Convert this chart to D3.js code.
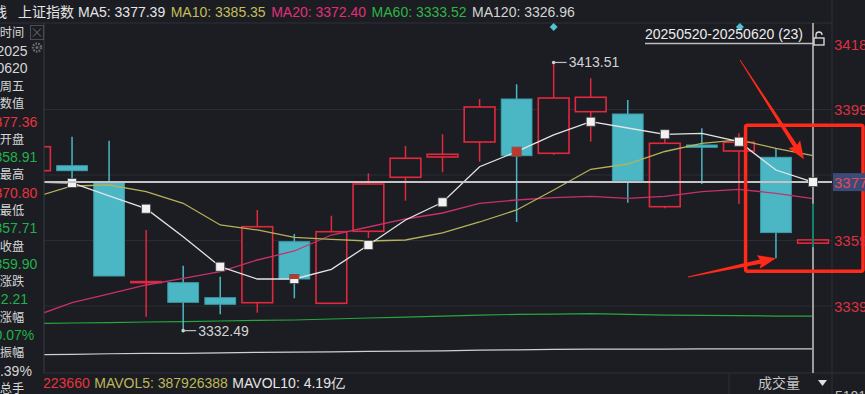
<!DOCTYPE html>
<html lang="zh">
<head>
<meta charset="UTF-8">
<title>上证指数 日K</title>
<script src="https://d3js.org/d3.v7.min.js"></script>
<style>
  html, body { margin: 0; padding: 0; background: #1b1d22; overflow: hidden; }
  svg text { font-family: "Liberation Sans", Arial, sans-serif; }
  svg text.cjk { font-family: "Noto Sans CJK SC", "Liberation Sans", sans-serif; }
</style>
</head>
<body>
<svg id="chart" width="865" height="394"></svg>
<script>
// ---- data ----
const dates = ["20250521","20250522","20250523","20250526","20250527","20250528","20250529","20250530",
               "20250603","20250604","20250605","20250606","20250609","20250610","20250611","20250612",
               "20250613","20250616","20250617","20250618","20250619","20250620"];
const open  = [3380.81,3382.32,3377.49,3347.00,3346.97,3342.44,3340.93,3359.36,3340.75,3362.50,3378.82,
               3384.95,3389.48,3402.47,3386.07,3398.64,3397.94,3369.93,3388.57,3386.76,3384.86,3358.91];
const high  = [3390.10,3391.08,3389.87,3362.90,3352.11,3348.79,3368.94,3361.69,3367.22,3380.03,3388.27,
               3391.81,3402.47,3406.91,3413.51,3408.73,3402.17,3391.81,3393.62,3392.11,3387.58,3370.80];
const low   = [3379.50,3377.09,3349.00,3336.70,3332.49,3337.43,3337.91,3342.26,3340.50,3360.50,3371.75,
               3380.33,3383.53,3365.30,3385.60,3389.57,3371.14,3369.45,3376.79,3370.75,3354.35,3357.71];
const close = [3388.06,3380.81,3349.00,3347.30,3341.05,3340.45,3363.89,3348.09,3362.38,3376.79,3384.56,
               3385.77,3400.06,3385.34,3402.77,3402.99,3377.70,3389.09,3387.88,3389.39,3362.11,3359.90];

const ma5   = [3377.40,3377.09,3373.17,3369.33,3360.87,3351.81,3348.09,3348.09,3351.02,3358.36,3365.92,
               3371.26,3382.02,3386.55,3391.60,3395.61,3393.71,3391.81,3392.11,3389.57,3381.02,3377.39];
const ma10  = [3372.87,3376.19,3376.49,3374.47,3370.96,3364.41,3362.90,3360.69,3360.09,3359.57,3359.87,
               3361.99,3365.31,3368.94,3374.98,3381.23,3382.83,3386.61,3389.09,3390.09,3387.58,3385.35];
const ma20  = [3336.91,3340.93,3343.56,3346.28,3348.30,3350.30,3353.83,3356.55,3361.38,3363.80,3366.22,
               3368.03,3370.96,3371.96,3372.65,3373.08,3372.47,3373.02,3374.47,3375.19,3373.98,3372.40];
const ma60  = [3334.65,3334.80,3334.90,3335.10,3335.20,3335.40,3335.60,3335.70,3336.00,3336.30,3336.60,
               3336.90,3337.20,3337.40,3337.50,3337.60,3337.40,3337.20,3337.10,3337.00,3336.90,3336.90];
const ma120 = [3325.20,3325.30,3325.50,3325.60,3325.60,3325.80,3325.90,3326.00,3326.10,3326.20,3326.30,
               3326.40,3326.60,3326.70,3326.80,3326.90,3326.90,3326.90,3326.95,3326.95,3326.96,3326.96];

const priceTicks = [3418.83, 3399.30, 3379.50, 3359.70, 3339.90];
const crossValue = 3377.36;

const header = [
  { t: "MA5: 3377.39",   c: "#e6e6e6" },
  { t: "MA10: 3385.35",  c: "#c4bd5c" },
  { t: "MA20: 3372.40",  c: "#e0307a" },
  { t: "MA60: 3333.52",  c: "#2fb446" },
  { t: "MA120: 3326.96", c: "#d4d4d4" }
];
const infoRows = [
  { t: "时间", c: "#d6d6d6", cjk: true }, { t: "2025", c: "#d6d6d6" }, { t: "0620", c: "#d6d6d6" },
  { t: "周五", c: "#d6d6d6", cjk: true }, { t: "数值", c: "#d6d6d6", cjk: true }, { t: "3377.36", c: "#e8333f" },
  { t: "开盘", c: "#d6d6d6", cjk: true }, { t: "3358.91", c: "#22b04a" }, { t: "最高", c: "#d6d6d6", cjk: true },
  { t: "3370.80", c: "#e8333f" }, { t: "最低", c: "#d6d6d6", cjk: true }, { t: "3357.71", c: "#22b04a" },
  { t: "收盘", c: "#d6d6d6", cjk: true }, { t: "3359.90", c: "#22b04a" }, { t: "涨跌", c: "#d6d6d6", cjk: true },
  { t: "-2.21", c: "#22b04a" }, { t: "涨幅", c: "#d6d6d6", cjk: true }, { t: "-0.07%", c: "#22b04a" },
  { t: "振幅", c: "#d6d6d6", cjk: true }, { t: "0.39%", c: "#d6d6d6" }, { t: "总手", c: "#d6d6d6", cjk: true }
];
const volRow = [
  { t: "223660",            c: "#e8333f" },
  { t: "MAVOL5: 387926388", c: "#bdb85a" },
  { t: "MAVOL10: 4.19亿",   c: "#e6e6e6" }
];

// ---- layout ----
const W = 865, H = 394, plotTop = 23, plotBottom = 373, axisX = 832, panelW = 44;
const BG = "#1b1d22", GRID = "#2b2e35", RED = "#e2283d", CYAN = "#4bb7c4";

const svg = d3.select("#chart");
svg.append("rect").attr("width", W).attr("height", H).attr("fill", BG);

const x = d3.scalePoint().domain(dates).range([35, 813]);
const bw = x.step() * 0.83;
const y = d3.scaleLinear().domain([3319.69, 3425.43]).range([plotBottom, plotTop]);

svg.append("clipPath").attr("id", "plot")
  .append("rect").attr("x", panelW).attr("y", plotTop).attr("width", axisX - panelW).attr("height", plotBottom - plotTop);

// grid
svg.append("g").selectAll("line").data(priceTicks.slice(1)).join("line")
  .attr("x1", panelW).attr("x2", axisX)
  .attr("y1", d => y(d)).attr("y2", d => y(d))
  .attr("stroke", GRID).attr("stroke-width", 1);
svg.append("line").attr("x1", 0).attr("x2", axisX).attr("y1", plotTop).attr("y2", plotTop).attr("stroke", "#2e3138");
svg.append("line").attr("x1", panelW).attr("x2", W).attr("y1", plotBottom).attr("y2", plotBottom).attr("stroke", "#2e3138");
svg.append("line").attr("x1", axisX).attr("x2", axisX).attr("y1", 0).attr("y2", H).attr("stroke", "#2e3138");

const plot = svg.append("g").attr("clip-path", "url(#plot)");

const line = d3.line().x((d, i) => x(dates[i])).y(d => y(d));
function maPath(arr, color, w) {
  plot.append("path").datum(arr).attr("d", line)
    .attr("fill", "none").attr("stroke", color).attr("stroke-width", w);
}
maPath(ma120, "#cfcfcf", 1.2);
maPath(ma60, "#27a83c", 1.2);

// candles
const candles = plot.append("g").selectAll("g").data(dates).join("g");
candles.append("line")
  .attr("x1", d => x(d)).attr("x2", d => x(d))
  .attr("y1", (d, i) => y(high[i])).attr("y2", (d, i) => y(low[i]))
  .attr("stroke", (d, i) => close[i] >= open[i] ? RED : CYAN).attr("stroke-width", 1.5);
candles.append("rect")
  .attr("x", d => x(d) - bw / 2).attr("width", bw)
  .attr("y", (d, i) => y(Math.max(open[i], close[i])))
  .attr("height", (d, i) => Math.max(1, Math.abs(y(open[i]) - y(close[i]))))
  .attr("fill", (d, i) => close[i] >= open[i] ? BG : CYAN)
  .attr("stroke", (d, i) => close[i] >= open[i] ? RED : "#3d9eaa")
  .attr("stroke-width", (d, i) => close[i] >= open[i] ? 1.6 : 1);

maPath(ma20, "#c8306c", 1.3);
maPath(ma10, "#b6b15c", 1.3);
maPath(ma5, "#e4e4e4", 1.3);

// markers on MA5 every other day
const mk = plot.append("g").selectAll("g").data(dates.map((d, i) => i).filter(i => i % 2 === 1)).join("g")
  .attr("transform", i => `translate(${x(dates[i])},${y(ma5[i])})`);
mk.append("rect").attr("x", -4.5).attr("y", -4.5).attr("width", 9).attr("height", 9)
  .attr("fill", "#f2f2f2").attr("stroke", "#444").attr("stroke-width", 0.8);
mk.filter(i => i === 7 || i === 13).append("rect")
  .attr("x", -4.5).attr("y", -4.5).attr("width", 9).attr("height", i => i === 13 ? 9 : 4.5)
  .attr("fill", "#b8392e");

// high / low labels
function extremeLabel(i, v) {
  const g = svg.append("g").attr("transform", `translate(${x(dates[i])},${y(v)})`);
  g.append("circle").attr("r", 1.8).attr("fill", "#cfcfcf");
  g.append("line").attr("x1", 1).attr("x2", 13).attr("stroke", "#bdbdbd").attr("stroke-width", 1.2);
  g.append("text").attr("x", 15).attr("dy", "0.35em").attr("font-size", 14).attr("fill", "#d2d2d2").text(v.toFixed(2));
}
const hi = d3.maxIndex(high), lo = d3.minIndex(low);
extremeLabel(hi, high[hi]);
extremeLabel(lo, low[lo]);

// crosshair on last day
const last = dates.length - 1, cx = x(dates[last]), cy = y(crossValue);
svg.append("line").attr("x1", cx).attr("x2", cx).attr("y1", plotTop).attr("y2", plotBottom)
  .attr("stroke", "#9c9c9c").attr("stroke-width", 2);
svg.append("line").attr("x1", cx).attr("x2", cx).attr("y1", y(high[last])).attr("y2", y(low[last]))
  .attr("stroke", "#12806a").attr("stroke-width", 2);
svg.append("line").attr("x1", panelW).attr("x2", axisX).attr("y1", cy).attr("y2", cy)
  .attr("stroke", "#c4c4c4").attr("stroke-width", 2);
svg.append("rect").attr("x", cx - 4.5).attr("y", y(ma5[last]) - 4.5).attr("width", 9).attr("height", 9)
  .attr("fill", "#f2f2f2").attr("stroke", "#444").attr("stroke-width", 0.8);

// event diamonds along the top
[14, 19].forEach(i => {
  svg.append("path").attr("d", d3.symbol(d3.symbolDiamond2, 40)())
    .attr("transform", `translate(${x(dates[i]) + (i === 19 ? 1 : 0)},27)`).attr("fill", "#4fc3d2");
});

// interval label
svg.append("text").attr("x", 645).attr("y", 39).attr("font-size", 14).attr("fill", "#ececec")
  .text(`${dates[0].slice(0, 6)}20-${dates[last]} (23)`);
svg.append("line").attr("x1", 645).attr("x2", cx).attr("y1", 43.5).attr("y2", 43.5).attr("stroke", "#bdbdbd").attr("stroke-width", 1.5);
const lock = svg.append("g").attr("transform", "translate(819,39)").attr("fill", "none").attr("stroke", "#e0e0e0").attr("stroke-width", 1.3);
lock.append("path").attr("d", "M-3,-1 v-3 a3,3 0 0 1 6,0");
lock.append("rect").attr("x", -5).attr("y", -1).attr("width", 10).attr("height", 7);

// red annotation box and arrows
const bx0 = x(dates[20]) - bw / 2 - 15, by0 = y(high[20]) - 23, by1 = y(low[20]) + 13;
svg.append("rect").attr("x", bx0).attr("y", by0).attr("width", 863 - bx0).attr("height", by1 - by0)
  .attr("fill", "none").attr("stroke", "#ff2a1a").attr("stroke-width", 3.5).attr("rx", 2);
function arrow(x0, y0, x1, y1) {
  const a = Math.atan2(y1 - y0, x1 - x0), L = Math.hypot(x1 - x0, y1 - y0);
  const g = svg.append("g").attr("transform", `translate(${x0},${y0}) rotate(${a * 180 / Math.PI})`);
  g.append("path").attr("fill", "#ff2a1a")
    .attr("d", `M0,-0.4 L${L - 16},-2.2 L${L - 18},-7 L${L},0 L${L - 18},7 L${L - 16},2.2 L0,0.4 Z`);
}
arrow(740, 60, x(dates[20]) + 28, y(high[20]) + 11);
arrow(688, 277, x(dates[20]), y(low[20]));

// price axis (the tick hidden under the crosshair box is skipped)
svg.append("g").selectAll("text").data(priceTicks.filter(t => Math.abs(y(t) - cy) > 14)).join("text")
  .attr("x", axisX + 2).attr("y", d => Math.max(y(d), plotTop)).attr("dy", "0.36em")
  .attr("font-size", 15).attr("fill", "#dc3040").text(d => d.toFixed(2));
svg.append("rect").attr("x", axisX + 1).attr("y", cy - 9).attr("width", 40).attr("height", 18).attr("fill", "#3b4a76");
svg.append("text").attr("x", axisX + 2).attr("y", cy).attr("dy", "0.36em").attr("font-size", 15).attr("fill", "#e04a5a")
  .text(crossValue.toFixed(2));

// header
svg.append("text").attr("class", "cjk").attr("x", -7).attr("y", 12).attr("dy", "0.35em").attr("font-size", 14)
  .attr("fill", "#e6e6e6").text("线");
svg.append("text").attr("class", "cjk").attr("x", 18).attr("y", 12).attr("dy", "0.35em").attr("font-size", 14)
  .attr("fill", "#e6e6e6").text("上证指数");
let hx = 78;
header.forEach(h => {
  const t = svg.append("text").attr("x", hx).attr("y", 12).attr("dy", "0.35em").attr("font-size", 14)
    .attr("fill", h.c).text(h.t);
  hx += t.node().getComputedTextLength() + 5.5;
});

// volume row
let vx = 43;
volRow.forEach(v => {
  const t = svg.append("text").attr("x", vx).attr("y", 383).attr("dy", "0.35em").attr("font-size", 14)
    .attr("fill", v.c).text(v.t);
  vx += t.node().getComputedTextLength() + 4.5;
});
svg.append("line").attr("x1", 729).attr("x2", 729).attr("y1", plotBottom).attr("y2", H).attr("stroke", "#2e3138");
svg.append("text").attr("class", "cjk").attr("x", 779).attr("y", 383).attr("dy", "0.35em").attr("text-anchor", "middle")
  .attr("font-size", 14).attr("fill", "#c6c6c6").text("成交量");
svg.append("path").attr("d", "M818,380 h9 l-4.5,6 Z").attr("fill", "#e0e0e0");
svg.append("text").attr("x", axisX + 3).attr("y", 401).attr("font-size", 14).attr("fill", "#bdbdbd").text("5101万");

// info panel on the left
svg.append("rect").attr("x", 0).attr("y", plotTop + 1).attr("width", panelW).attr("height", H - plotTop).attr("fill", BG);
svg.append("line").attr("x1", panelW).attr("x2", panelW).attr("y1", plotTop).attr("y2", plotBottom).attr("stroke", "#3a3d44");
svg.append("g").selectAll("text").data(infoRows).join("text")
  .attr("class", d => d.cjk ? "cjk" : null)
  .attr("x", 12).attr("y", (d, i) => 33 + i * 17.77).attr("dy", "0.35em").attr("text-anchor", "middle")
  .attr("font-size", d => d.cjk ? 12.2 : 14).attr("fill", d => d.c).text(d => d.t);
svg.append("rect").attr("x", 30.5).attr("y", 25.5).attr("width", 13).attr("height", 14)
  .attr("fill", BG).attr("stroke", "#4a4d55");
svg.append("path").attr("d", "M33,28.5 L41,36.5 M41,28.5 L33,36.5").attr("stroke", "#707070").attr("stroke-width", 1);
svg.append("circle").attr("cx", 37).attr("cy", 47.5).attr("r", 4).attr("fill", "none").attr("stroke", "#6a6a6a").attr("stroke-width", 2.5)
  .attr("stroke-dasharray", "1.6 1.2");
svg.append("circle").attr("cx", 37).attr("cy", 47.5).attr("r", 1.5).attr("fill", "#6a6a6a");
</script>
</body>
</html>
